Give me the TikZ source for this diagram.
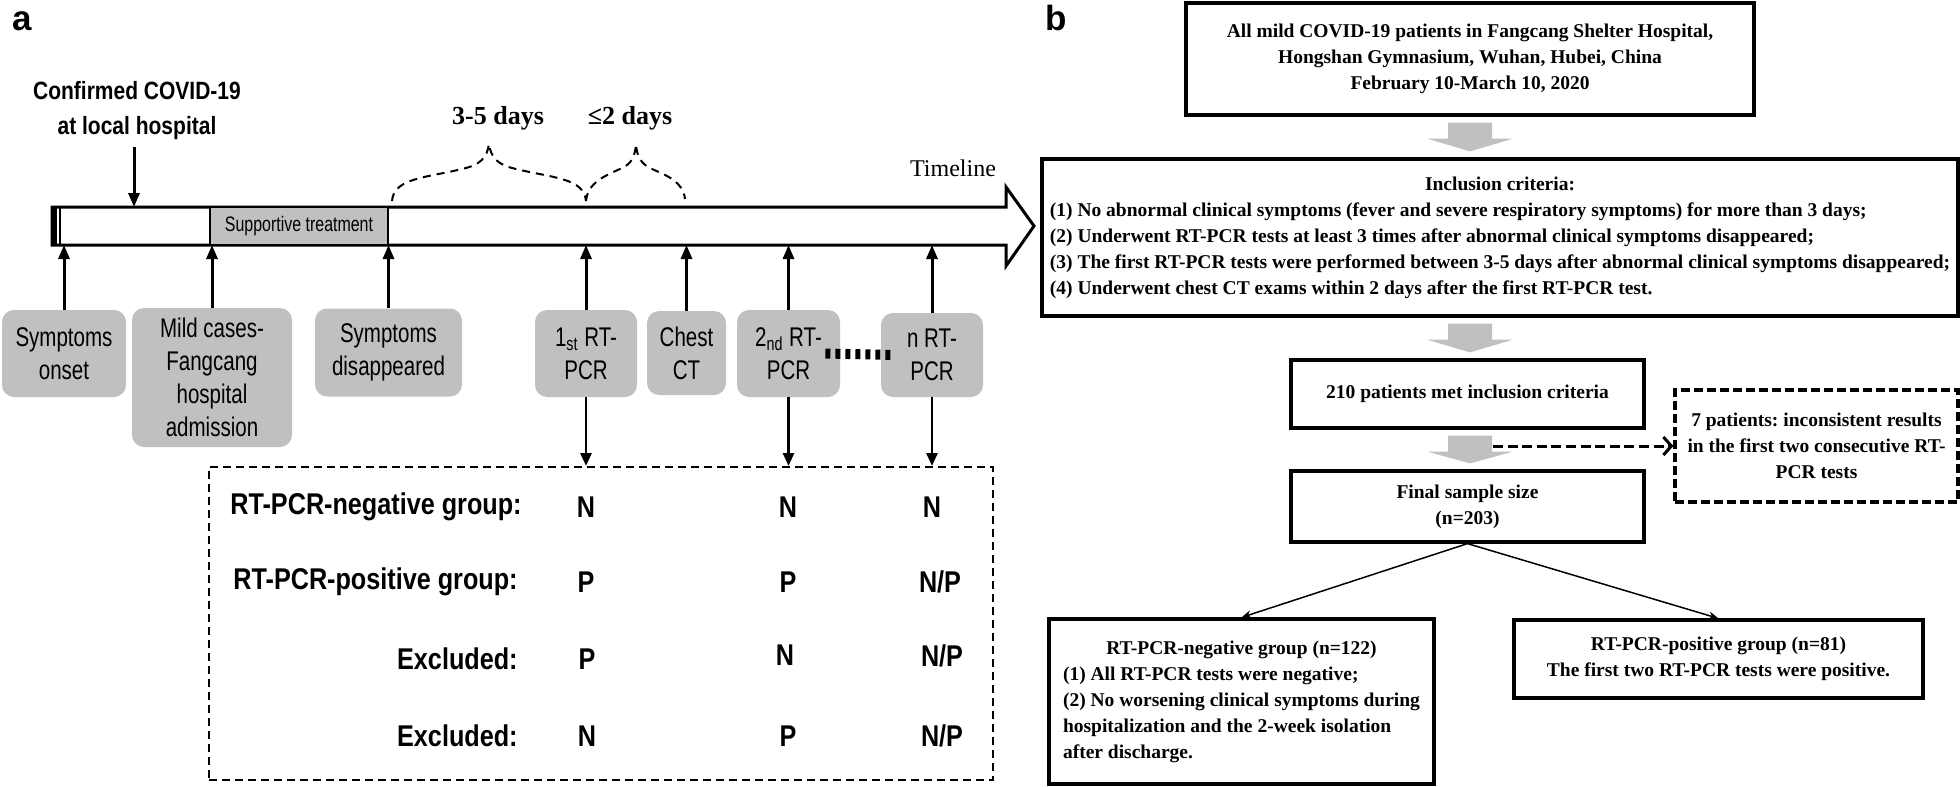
\documentclass[tikz,border=0pt]{standalone}
\usepackage{fontspec}
\setmainfont{Liberation Serif}
\setsansfont{Liberation Sans}
\newfontfamily\narrowsf[FakeStretch=0.76]{Liberation Sans}
\newfontfamily\condsf[FakeStretch=0.84]{Liberation Sans}
\usepackage{tikz}
\usetikzlibrary{arrows.meta, calc, positioning}
\definecolor{boxgray}{RGB}{192,192,192}
\frenchspacing
\newcommand{\blockarrow}[2]{%
  \coordinate (ba) at (all.center |- #1.south);
  \coordinate (bb) at (all.center |- #2.north);
  \fill[boxgray] ($(ba)+(-22,6)$) -- ($(ba)+(22,6)$) -- ($(ba)+(22,22)$) -- ($(ba)+(43,22)$)
    -- ($(bb)+(0,-6)$) -- ($(ba)+(-43,22)$) -- ($(ba)+(-22,22)$) -- cycle;}

\begin{document}
\begin{tikzpicture}[x=0.5pt, y=-0.5pt,
    event/.style={fill=boxgray, rounded corners=6pt, align=center, inner sep=0pt, font=\narrowsf\fontsize{13.5}{16.5}\selectfont},
    uparrow/.style={-{Triangle[length=7pt, width=5.5pt]}, line width=1.5pt},
    downarrow/.style={-{Triangle[length=6.5pt, width=5.5pt]}, line width=1.4pt},
    rowlabel/.style={anchor=east, inner sep=0pt, font=\condsf\bfseries\fontsize{15}{18}\selectfont},
    result/.style={inner sep=0pt, font=\condsf\bfseries\fontsize{15}{18}\selectfont},
    daybrace/.style={line width=1pt, dash pattern=on 4pt off 3pt},
    daylabel/.style={font=\bfseries\fontsize{13}{15}\selectfont},
    flowbox/.style={draw, line width=1.6pt, align=center, inner sep=0pt, font=\bfseries\fontsize{9.75}{13}\selectfont},
    thinarrow/.style={-{Stealth[length=5pt, width=4pt]}, line width=0.75pt},
    panel/.style={anchor=base west, inner sep=0pt, font=\sffamily\bfseries\fontsize{17.5}{20}\selectfont}
]
    \useasboundingbox (0,0) rectangle (1960,787);
    \node [panel] (pa) at (12,30) {a};
    \node [panel] (pb) at (1045,30) {b};

    % timeline
    \draw [line width=1.5pt, fill=white] (52,207) -- (1006,207) -- (1006,187) -- (1034,226) -- (1006,266) -- (1006,245) -- (52,245) -- cycle;
    \fill (52,207) rectangle (57,245);
    \draw [line width=1pt] (60,207) -- (60,245);
    \coordinate (tltop) at (52,207);
    \coordinate (tlbot) at (52,245);
    \node [font=\fontsize{12}{14}\selectfont] (tlname) at (953,168) {Timeline};
    \node [draw, line width=1.2pt, fill=boxgray, minimum width=89pt, minimum height=19pt, inner sep=0pt, font=\narrowsf\fontsize{10.5}{12}\selectfont] (treat) at (299,226) {Supportive treatment};

    \node [align=center, font=\condsf\bfseries\fontsize{12.5}{17.5}\selectfont] (conf) at (137,111) {Confirmed COVID-19\\at local hospital};
    \draw [uparrow] ([xshift=-1.5pt]conf.south) -- ([xshift=-1.5pt]conf.south |- tltop);

    \node [event, minimum width=62pt, minimum height=43.5pt] (onset) at (64,353.5) {Symptoms\\onset};
    \node [event, minimum width=80pt, minimum height=69.5pt] (admit) at (212,377.5) {Mild cases-\\Fangcang\\hospital\\admission};
    \node [event, minimum width=73.5pt, minimum height=44pt] (gone) at (388.5,352.5) {Symptoms\\disappeared};
    \node [event, minimum width=51pt, minimum height=43.5pt] (pcra) at (586,353.5) {1\textsubscript{st} RT-\\PCR};
    \node [event, minimum width=39.5pt, minimum height=42pt] (ct) at (686.5,353) {Chest\\CT};
    \node [event, minimum width=51.5pt, minimum height=43.5pt] (pcrb) at (788.5,353.5) {2\textsubscript{nd} RT-\\PCR};
    \node [event, minimum width=51pt, minimum height=42pt] (pcrn) at (932,355) {n RT-\\PCR};
    \foreach \n in {onset, admit, gone, pcra, ct, pcrb, pcrn}
        \draw [uparrow] (\n.north) -- (\n.north |- tlbot);
    \draw [line width=5pt, dash pattern=on 2.5pt off 2.5pt] ([xshift=-7.5pt]pcrb.east) -- ([xshift=7pt]pcrn.west);

    \draw [daybrace] (392,201) .. controls (394,178) and (425,178) .. (462,169) .. controls (480,165) and (487,158) .. (489,144)
        .. controls (491,158) and (498,165) .. (516,169) .. controls (553,178) and (584,178) .. (586,201);
    \draw [daybrace] (586,201) .. controls (588,182) and (605,176) .. (622,168) .. controls (631,164) and (635,157) .. (636,144)
        .. controls (637,157) and (641,164) .. (652,169) .. controls (668,176) and (683,182) .. (685,199);
    \node [daylabel] (d35) at (498,118) {3-5 days};
    \node [daylabel] (d2) at (630,118) {≤2 days};

    % groups
    \node [draw, line width=1pt, dash pattern=on 4pt off 2.5pt, minimum width=392pt, minimum height=156.5pt, inner sep=0pt] (groups) at (601,623.5) {};
    \foreach \n in {pcra, pcrb, pcrn}
        \draw [downarrow] (\n.south) -- (\n.south |- groups.north);
    \node [rowlabel] (rneg) at (522,507) {RT-PCR-negative group:};
    \node [rowlabel] (rpos) at (518,582) {RT-PCR-positive group:};
    \node [rowlabel] (rexa) at (518,659) {Excluded:};
    \node [rowlabel] (rexb) at (518,736) {Excluded:};
    \node [result] (n11) at (586,507) {N};
    \node [result] (n12) at (788,507) {N};
    \node [result] (n13) at (932,507) {N};
    \node [result] (n21) at (586,582) {P};
    \node [result] (n22) at (788,582) {P};
    \node [result] (n23) at (940,582) {N/P};
    \node [result] (n31) at (587,659) {P};
    \node [result] (n32) at (785,655) {N};
    \node [result] (n33) at (942,656) {N/P};
    \node [result] (n41) at (587,736) {N};
    \node [result] (n42) at (788,736) {P};
    \node [result] (n43) at (942,736) {N/P};

    % flow chart
    \node [flowbox, minimum width=284pt, minimum height=56pt] (all) at (1470,59) {All mild COVID-19 patients in Fangcang Shelter Hospital,\\Hongshan Gymnasium, Wuhan, Hubei, China\\February 10-March 10, 2020};
    \node [flowbox, minimum width=458pt, minimum height=78.5pt] (crit) at (1500,237.5) {\begin{tabular}{@{}l@{}}
        \multicolumn{1}{c}{Inclusion criteria:}\\
        (1) No abnormal clinical symptoms (fever and severe respiratory symptoms) for more than 3 days;\\
        (2) Underwent RT-PCR tests at least 3 times after abnormal clinical symptoms disappeared;\\
        (3) The first RT-PCR tests were performed between 3-5 days after abnormal clinical symptoms disappeared;\\
        (4) Underwent chest CT exams within 2 days after the first RT-PCR test.
        \end{tabular}};
    \node [flowbox, minimum width=176.5pt, minimum height=34pt] (picked) at (1467.5,394) {210 patients met inclusion criteria};
    \node [flowbox, minimum width=176.5pt, minimum height=35.5pt] (final) at (1467.5,506.5) {Final sample size\\(n=203)};
    \node [flowbox, dash pattern=on 4.5pt off 2pt, minimum width=141.5pt, minimum height=56pt] (excl) at (1816.5,446) {7 patients: inconsistent results\\in the first two consecutive RT-\\PCR tests};
    \node [flowbox, minimum width=192.5pt, minimum height=82.5pt] (neg) at (1241.5,701.5) {\begin{tabular}{@{}l@{}}
        \multicolumn{1}{c}{RT-PCR-negative group (n=122)}\\
        (1) All RT-PCR tests were negative;\\
        (2) No worsening clinical symptoms during\\
        hospitalization and the 2-week isolation\\
        after discharge.
        \end{tabular}};
    \node [flowbox, minimum width=204.5pt, minimum height=39pt] (pos) at (1718.5,659) {RT-PCR-positive group (n=81)\\The first two RT-PCR tests were positive.};

    \blockarrow{all}{crit}
    \blockarrow{crit}{picked}
    \blockarrow{picked}{final}
    \draw [line width=1.5pt, dash pattern=on 5pt off 2.3pt, -{Straight Barb[length=4pt, width=9pt]}] ($(excl.west -| all.center)+(23,0)$) -- (excl.west);
    \draw [thinarrow] (final.south) -- (neg.north);
    \draw [thinarrow] (final.south) -- (pos.north);
\end{tikzpicture}
\end{document}
